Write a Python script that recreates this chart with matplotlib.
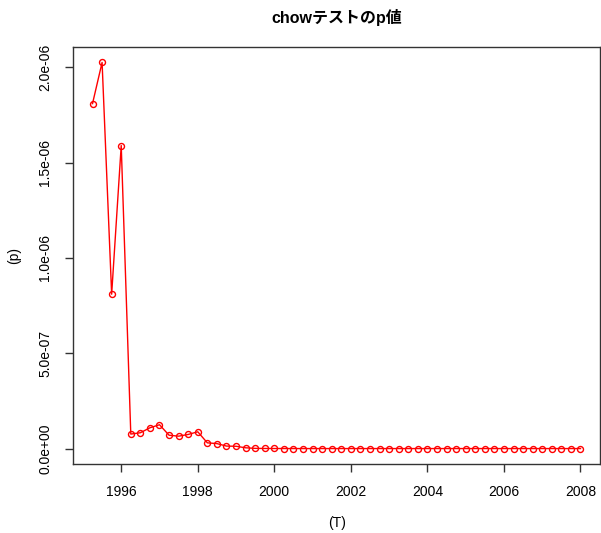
import matplotlib
matplotlib.use("Agg")
import matplotlib.pyplot as plt
import numpy as np

# quarterly time index 1995 Q2 .. 2008 Q1
start_year = 1995.25
n_points = 52
T = [start_year + 0.25 * i for i in range(n_points)]
p_values = [1.81e-6, 2.026e-6, 0.81e-6, 1.59e-6,
            0.076e-6, 0.083e-6, 0.109e-6, 0.125e-6,
            0.070e-6, 0.065e-6, 0.074e-6, 0.088e-6,
            0.030e-6, 0.026e-6, 0.013e-6, 0.012e-6,
            0.004e-6, 0.001e-6, 0.0005e-6, 0.0003e-6,
            0.0002e-6, 0.0001e-6, 0.0, 0.0,
            0.0, 0.0, 0.0, 0.0, 0.0, 0.0, 0.0, 0.0,
            0.0, 0.0, 0.0, 0.0, 0.0, 0.0, 0.0, 0.0,
            0.0, 0.0, 0.0, 0.0, 0.0, 0.0, 0.0, 0.0,
            0.0, 0.0, 0.0, 0.0]
x_ticks = [1996, 1998, 2000, 2002, 2004, 2006, 2008]
y_ticks = [0.0, 5e-7, 1e-6, 1.5e-6, 2e-6]
y_tick_labels = ["0.0e+00", "5.0e-07", "1.0e-06", "1.5e-06", "2.0e-06"]
title = "chowテストのp値"
xlabel = "(T)"
ylabel = "(p)"

fam = ["Liberation Sans", "Noto Sans CJK JP", "DejaVu Sans"]
plt.rcParams["font.family"] = fam

W, H = 601, 533
fig = plt.figure(figsize=(W / 100, H / 100), dpi=100)
l, r, t, b = 73, 600, 47, 464
ax = fig.add_axes([l / W, 1 - b / H, (r - l) / W, (b - t) / H])

ax.plot(T, p_values, color="red", lw=1.0, marker="o", ms=4.3,
        mfc="none", mec="red", mew=1.0)

x0, x1 = min(T), max(T)
dx = (x1 - x0) * 0.04
ax.set_xlim(x0 - dx, x1 + dx)
y0, y1 = min(p_values), max(p_values)
dy = (y1 - y0) * 0.04
ax.set_ylim(y0 - dy, y1 + dy)

ax.set_xticks(x_ticks)
ax.set_xticklabels([str(v) for v in x_ticks], fontsize=10)
ax.set_yticks(y_ticks)
ax.set_yticklabels(y_tick_labels, fontsize=10, rotation=90, va="center")
ax.tick_params(direction="out", length=6, width=1, pad=9, color="#333333")
for s in ax.spines.values():
    s.set_linewidth(1)
    s.set_color("#333333")

fig.text(337 / W, 1 - 17 / H, title, ha="center", va="center",
         fontsize=11.5, fontweight="bold", family=fam)
fig.text(337 / W, 1 - 523 / H, xlabel, ha="center", va="center", fontsize=10)
fig.text(14 / W, 1 - 256 / H, ylabel, ha="center", va="center", fontsize=10,
         rotation=90)

fig.savefig("out.png", dpi=100)
